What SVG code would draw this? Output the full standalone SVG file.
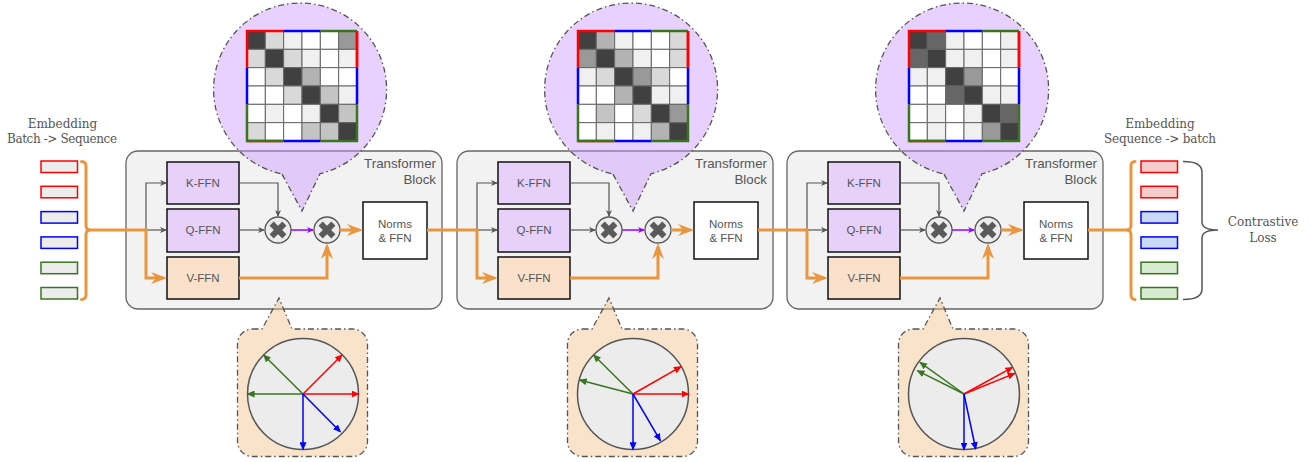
<svg xmlns="http://www.w3.org/2000/svg" width="1313" height="462" viewBox="0 0 1313 462">
  <style>
    .lbl { font-family: "DejaVu Serif", "Liberation Serif", serif; font-size: 12px; fill: #555; text-anchor: middle; }
    .title { font-family: "Liberation Sans", Arial, sans-serif; font-size: 13.3px; fill: #555; text-anchor: end; }
    .ntext { font-family: "Liberation Sans", Arial, sans-serif; font-size: 11.5px; fill: #555; text-anchor: middle; }
    .container { fill: #f2f2f2; stroke: #666; stroke-width: 1.3; }
    .kq { fill: #e7d1fb; stroke: #111; stroke-width: 1.5; }
    .v { fill: #fae1cb; stroke: #111; stroke-width: 1.5; }
    .norm { fill: #fff; stroke: #111; stroke-width: 1.5; }
    .mulc { fill: #ececec; stroke: #555; stroke-width: 1.3; }
    .mulx { fill: #5a5a5a; }
    .gray { fill: none; stroke: #555; stroke-width: 1.2; marker-end: url(#ah-gray); }
    .purp { fill: none; stroke: #9900ff; stroke-width: 1.5; marker-end: url(#ah-purp); }
    .orng { fill: none; stroke: #e9963f; stroke-width: 3; }
    .orng-a { fill: none; stroke: #e9963f; stroke-width: 3; marker-end: url(#ah-orng); }
    .co-p { fill: #cc99ff; fill-opacity: 0.45; stroke: #555; stroke-width: 1.3; stroke-dasharray: 6 3 1.5 3; }
    .co-o { fill: #f3c08c; fill-opacity: 0.45; stroke: #555; stroke-width: 1.3; stroke-dasharray: 6 3 1.5 3; }
    .cell { stroke: #666; stroke-width: 1; vector-effect: non-scaling-stroke; }
    .edge { fill: none; stroke-width: 2.5; vector-effect: non-scaling-stroke; }
    .c0 { fill: #ffffff; } .c1 { fill: #f0f0f0; } .c2 { fill: #d9d9d9; } .c3 { fill: #c4c4c4; }
    .c4 { fill: #b3b3b3; } .c5 { fill: #999999; } .c6 { fill: #666666; } .cd { fill: #404040; }
    .disc { fill: #ececec; stroke: #555; stroke-width: 1.5; }
    .vr { stroke: #ff0000; stroke-width: 1.5; marker-end: url(#ah-r); }
    .vg { stroke: #38761d; stroke-width: 1.5; marker-end: url(#ah-g); }
    .vb { stroke: #0000ff; stroke-width: 1.5; marker-end: url(#ah-b); }
    .emb { stroke-width: 1.5; }
  </style>
  <defs>
    <marker id="ah-gray" viewBox="0 0 7 6" refX="6" refY="3" markerWidth="7" markerHeight="6" markerUnits="userSpaceOnUse" orient="auto"><path d="M0,0 L7,3 L0,6 L2,3 Z" fill="#555"/></marker>
    <marker id="ah-purp" viewBox="0 0 7 6" refX="6" refY="3" markerWidth="7" markerHeight="6" markerUnits="userSpaceOnUse" orient="auto"><path d="M0,0 L7,3 L0,6 L2,3 Z" fill="#9900ff"/></marker>
    <marker id="ah-orng" viewBox="0 0 16 12" refX="12" refY="6" markerWidth="16" markerHeight="12" markerUnits="userSpaceOnUse" orient="auto"><path d="M0,0 L16,6 L0,12 L5,6 Z" fill="#e9963f"/></marker>
    <marker id="ah-r" viewBox="0 0 8 7" refX="7" refY="3.5" markerWidth="8" markerHeight="7" markerUnits="userSpaceOnUse" orient="auto"><path d="M0,0 L8,3.5 L0,7 Z" fill="#ff0000"/></marker>
    <marker id="ah-g" viewBox="0 0 8 7" refX="7" refY="3.5" markerWidth="8" markerHeight="7" markerUnits="userSpaceOnUse" orient="auto"><path d="M0,0 L8,3.5 L0,7 Z" fill="#38761d"/></marker>
    <marker id="ah-b" viewBox="0 0 8 7" refX="7" refY="3.5" markerWidth="8" markerHeight="7" markerUnits="userSpaceOnUse" orient="auto"><path d="M0,0 L8,3.5 L0,7 Z" fill="#0000ff"/></marker>
    <!-- multiply symbol: circle with a thick X -->
    <g id="mul">
      <circle class="mulc" cx="0" cy="0" r="13"/>
      <rect class="mulx" x="-2.9" y="-9" width="5.8" height="18" transform="rotate(45)"/>
      <rect class="mulx" x="-2.9" y="-9" width="5.8" height="18" transform="rotate(-45)"/>
    </g>
    <!-- coloured frame around a 6x6 similarity matrix (unit cells) -->
    <g id="frame">
      <path class="edge" stroke="#ff0000" d="M0,2 V0 H2 M6,2 V0 M0,6 H2"/>
      <path class="edge" stroke="#0000ff" d="M2,0 H4 M0,2 V4 M6,2 V4 M2,6 H4"/>
      <path class="edge" stroke="#38761d" d="M4,0 H6 M0,4 V6 H2 M6,4 V6 H4"/>
      <path class="edge" stroke="#ff0000" d="M6,0 V2"/>
    </g>
  </defs>

  <!-- input embeddings -->
  <g id="input-embeddings">
    <text class="lbl" x="62.5" y="128">Embedding</text>
    <text class="lbl" x="62" y="142.5" textLength="110" lengthAdjust="spacing">Batch -&gt; Sequence</text>
    <rect class="emb" x="41" y="161" width="36.5" height="11.5" fill="#ececec" stroke="#ff0000"/>
    <rect class="emb" x="41" y="186.3" width="36.5" height="11.5" fill="#ececec" stroke="#ff0000"/>
    <rect class="emb" x="41" y="211.6" width="36.5" height="11.5" fill="#ececec" stroke="#0000ff"/>
    <rect class="emb" x="41" y="236.9" width="36.5" height="11.5" fill="#ececec" stroke="#0000ff"/>
    <rect class="emb" x="41" y="262.2" width="36.5" height="11.5" fill="#ececec" stroke="#38761d"/>
    <rect class="emb" x="41" y="287.5" width="36.5" height="11.5" fill="#ececec" stroke="#38761d"/>
  </g>

  <!-- transformer blocks -->
  <g id="block1">
    <rect class="container" x="126" y="151" width="316" height="158" rx="12"/>
    <text class="title" x="436" y="168">Transformer</text>
    <text class="title" x="436" y="184">Block</text>
  </g>
  <g id="k-ffn-1"><rect class="kq" x="167" y="162" width="72" height="42"/><text class="ntext" x="203" y="187">K-FFN</text></g>
  <g id="q-ffn-1"><rect class="kq" x="167" y="209" width="72" height="43"/><text class="ntext" x="203" y="234">Q-FFN</text></g>
  <g id="v-ffn-1"><rect class="v" x="167" y="257" width="72" height="42"/><text class="ntext" x="203" y="282">V-FFN</text></g>
  <g id="mul-kq-1"><use href="#mul" x="278" y="230"/></g>
  <g id="mul-v-1"><use href="#mul" x="327" y="230"/></g>
  <g id="norms-1"><rect class="norm" x="363" y="202" width="64" height="57"/><text class="ntext" x="395" y="227.5">Norms</text><text class="ntext" x="395" y="241.5">&amp; FFN</text></g>

  <g id="block2" transform="translate(331,0)">
    <rect class="container" x="126" y="151" width="316" height="158" rx="12"/>
    <text class="title" x="436" y="168">Transformer</text>
    <text class="title" x="436" y="184">Block</text>
  </g>
  <g id="k-ffn-2" transform="translate(331,0)"><rect class="kq" x="167" y="162" width="72" height="42"/><text class="ntext" x="203" y="187">K-FFN</text></g>
  <g id="q-ffn-2" transform="translate(331,0)"><rect class="kq" x="167" y="209" width="72" height="43"/><text class="ntext" x="203" y="234">Q-FFN</text></g>
  <g id="v-ffn-2" transform="translate(331,0)"><rect class="v" x="167" y="257" width="72" height="42"/><text class="ntext" x="203" y="282">V-FFN</text></g>
  <g id="mul-kq-2" transform="translate(331,0)"><use href="#mul" x="278" y="230"/></g>
  <g id="mul-v-2" transform="translate(331,0)"><use href="#mul" x="327" y="230"/></g>
  <g id="norms-2" transform="translate(331,0)"><rect class="norm" x="363" y="202" width="64" height="57"/><text class="ntext" x="395" y="227.5">Norms</text><text class="ntext" x="395" y="241.5">&amp; FFN</text></g>

  <g id="block3" transform="translate(661,0)">
    <rect class="container" x="126" y="151" width="316" height="158" rx="12"/>
    <text class="title" x="436" y="168">Transformer</text>
    <text class="title" x="436" y="184">Block</text>
  </g>
  <g id="k-ffn-3" transform="translate(661,0)"><rect class="kq" x="167" y="162" width="72" height="42"/><text class="ntext" x="203" y="187">K-FFN</text></g>
  <g id="q-ffn-3" transform="translate(661,0)"><rect class="kq" x="167" y="209" width="72" height="43"/><text class="ntext" x="203" y="234">Q-FFN</text></g>
  <g id="v-ffn-3" transform="translate(661,0)"><rect class="v" x="167" y="257" width="72" height="42"/><text class="ntext" x="203" y="282">V-FFN</text></g>
  <g id="mul-kq-3" transform="translate(661,0)"><use href="#mul" x="278" y="230"/></g>
  <g id="mul-v-3" transform="translate(661,0)"><use href="#mul" x="327" y="230"/></g>
  <g id="norms-3" transform="translate(661,0)"><rect class="norm" x="363" y="202" width="64" height="57"/><text class="ntext" x="395" y="227.5">Norms</text><text class="ntext" x="395" y="241.5">&amp; FFN</text></g>

  <!-- output embeddings -->
  <g id="output-embeddings">
    <text class="lbl" x="1160" y="128">Embedding</text>
    <text class="lbl" x="1160" y="142.5" textLength="112" lengthAdjust="spacing">Sequence -&gt; batch</text>
    <rect class="emb" x="1141" y="161" width="36.5" height="11.5" fill="#f4cccc" stroke="#ff0000"/>
    <rect class="emb" x="1141" y="186.3" width="36.5" height="11.5" fill="#f4cccc" stroke="#ff0000"/>
    <rect class="emb" x="1141" y="211.6" width="36.5" height="11.5" fill="#c9daf8" stroke="#0000ff"/>
    <rect class="emb" x="1141" y="236.9" width="36.5" height="11.5" fill="#c9daf8" stroke="#0000ff"/>
    <rect class="emb" x="1141" y="262.2" width="36.5" height="11.5" fill="#d9ead3" stroke="#38761d"/>
    <rect class="emb" x="1141" y="287.5" width="36.5" height="11.5" fill="#d9ead3" stroke="#38761d"/>
  </g>
  <g id="contrastive-loss">
    <path d="M1183,161.5 Q1202,161.5 1202,172 V222 Q1202,230 1218,230 Q1202,230 1202,238 V289 Q1202,299.5 1183,299.5" fill="none" stroke="#555" stroke-width="1.5"/>
    <text class="lbl" x="1263" y="226">Contrastive</text>
    <text class="lbl" x="1263" y="241.5">Loss</text>
  </g>

  <!-- connectors -->
  <g id="connectors">
    <!-- input brace and feed into block 1 -->
    <path class="orng" d="M81.5,161.5 Q86,161.5 86,166 V225 Q86,230 90,230 Q86,230 86,235 V294.5 Q86,299.5 81.5,299.5" stroke-linecap="round"/>
    <path class="orng" d="M88,230 H146"/>
    <!-- block-to-block and block-to-output links -->
    <path class="orng" d="M427,230 H477"/>
    <path class="orng" d="M758,230 H807"/>
    <path class="orng" d="M1088,230 H1131"/>
    <path class="orng" d="M1135,161.5 Q1131,161.5 1131,166 V225 Q1131,230 1127,230 Q1131,230 1131,235 V294.5 Q1131,299.5 1135,299.5" stroke-linecap="round"/>
    <g id="wires-1">
      <path class="gray" d="M146,230 V183 H166"/>
      <path class="gray" d="M146,230 H166"/>
      <path class="gray" d="M239,183 H278 V216"/>
      <path class="gray" d="M239,230 H264"/>
      <path class="purp" d="M291,230 H313"/>
      <path class="orng-a" d="M144.5,230 H146 V278 H163"/>
      <path class="orng-a" d="M239,278 H327 V247"/>
      <path class="orng-a" d="M340,230 H359"/>
    </g>
    <g id="wires-2" transform="translate(331,0)">
      <path class="gray" d="M146,230 V183 H166"/>
      <path class="gray" d="M146,230 H166"/>
      <path class="gray" d="M239,183 H278 V216"/>
      <path class="gray" d="M239,230 H264"/>
      <path class="purp" d="M291,230 H313"/>
      <path class="orng-a" d="M144.5,230 H146 V278 H163"/>
      <path class="orng-a" d="M239,278 H327 V247"/>
      <path class="orng-a" d="M340,230 H359"/>
    </g>
    <g id="wires-3" transform="translate(661,0)">
      <path class="gray" d="M146,230 V183 H166"/>
      <path class="gray" d="M146,230 H166"/>
      <path class="gray" d="M239,183 H278 V216"/>
      <path class="gray" d="M239,230 H264"/>
      <path class="purp" d="M291,230 H313"/>
      <path class="orng-a" d="M144.5,230 H146 V278 H163"/>
      <path class="orng-a" d="M239,278 H327 V247"/>
      <path class="orng-a" d="M340,230 H359"/>
    </g>
  </g>

  <!-- attention-matrix callouts -->
  <g id="attn-callout-1">
    <path class="co-p" d="M282,174.1 L302,211 L320,173.7 A86.5,86.5 0 1 0 282,174.1 Z"/>
    <g transform="translate(247,31) scale(18.333)">
      <rect class="cell cd" x="0" y="0" width="1" height="1"/><rect class="cell c2" x="1" y="0" width="1" height="1"/><rect class="cell c1" x="2" y="0" width="1" height="1"/><rect class="cell c0" x="3" y="0" width="1" height="1"/><rect class="cell c0" x="4" y="0" width="1" height="1"/><rect class="cell c5" x="5" y="0" width="1" height="1"/>
      <rect class="cell c2" x="0" y="1" width="1" height="1"/><rect class="cell cd" x="1" y="1" width="1" height="1"/><rect class="cell c2" x="2" y="1" width="1" height="1"/><rect class="cell c1" x="3" y="1" width="1" height="1"/><rect class="cell c0" x="4" y="1" width="1" height="1"/><rect class="cell c1" x="5" y="1" width="1" height="1"/>
      <rect class="cell c0" x="0" y="2" width="1" height="1"/><rect class="cell c2" x="1" y="2" width="1" height="1"/><rect class="cell cd" x="2" y="2" width="1" height="1"/><rect class="cell c4" x="3" y="2" width="1" height="1"/><rect class="cell c0" x="4" y="2" width="1" height="1"/><rect class="cell c0" x="5" y="2" width="1" height="1"/>
      <rect class="cell c0" x="0" y="3" width="1" height="1"/><rect class="cell c0" x="1" y="3" width="1" height="1"/><rect class="cell c2" x="2" y="3" width="1" height="1"/><rect class="cell cd" x="3" y="3" width="1" height="1"/><rect class="cell c3" x="4" y="3" width="1" height="1"/><rect class="cell c1" x="5" y="3" width="1" height="1"/>
      <rect class="cell c0" x="0" y="4" width="1" height="1"/><rect class="cell c1" x="1" y="4" width="1" height="1"/><rect class="cell c0" x="2" y="4" width="1" height="1"/><rect class="cell c1" x="3" y="4" width="1" height="1"/><rect class="cell cd" x="4" y="4" width="1" height="1"/><rect class="cell c3" x="5" y="4" width="1" height="1"/>
      <rect class="cell c2" x="0" y="5" width="1" height="1"/><rect class="cell c0" x="1" y="5" width="1" height="1"/><rect class="cell c0" x="2" y="5" width="1" height="1"/><rect class="cell c3" x="3" y="5" width="1" height="1"/><rect class="cell c3" x="4" y="5" width="1" height="1"/><rect class="cell cd" x="5" y="5" width="1" height="1"/>
      <use href="#frame"/>
    </g>
  </g>
  <g id="attn-callout-2" transform="translate(331,0)">
    <path class="co-p" d="M282,174.1 L302,211 L320,173.7 A86.5,86.5 0 1 0 282,174.1 Z"/>
    <g transform="translate(247,31) scale(18.333)">
      <rect class="cell cd" x="0" y="0" width="1" height="1"/><rect class="cell c4" x="1" y="0" width="1" height="1"/><rect class="cell c1" x="2" y="0" width="1" height="1"/><rect class="cell c0" x="3" y="0" width="1" height="1"/><rect class="cell c0" x="4" y="0" width="1" height="1"/><rect class="cell c2" x="5" y="0" width="1" height="1"/>
      <rect class="cell c5" x="0" y="1" width="1" height="1"/><rect class="cell cd" x="1" y="1" width="1" height="1"/><rect class="cell c4" x="2" y="1" width="1" height="1"/><rect class="cell c1" x="3" y="1" width="1" height="1"/><rect class="cell c0" x="4" y="1" width="1" height="1"/><rect class="cell c2" x="5" y="1" width="1" height="1"/>
      <rect class="cell c1" x="0" y="2" width="1" height="1"/><rect class="cell c2" x="1" y="2" width="1" height="1"/><rect class="cell cd" x="2" y="2" width="1" height="1"/><rect class="cell c5" x="3" y="2" width="1" height="1"/><rect class="cell c2" x="4" y="2" width="1" height="1"/><rect class="cell c0" x="5" y="2" width="1" height="1"/>
      <rect class="cell c0" x="0" y="3" width="1" height="1"/><rect class="cell c0" x="1" y="3" width="1" height="1"/><rect class="cell c4" x="2" y="3" width="1" height="1"/><rect class="cell cd" x="3" y="3" width="1" height="1"/><rect class="cell c1" x="4" y="3" width="1" height="1"/><rect class="cell c1" x="5" y="3" width="1" height="1"/>
      <rect class="cell c0" x="0" y="4" width="1" height="1"/><rect class="cell c3" x="1" y="4" width="1" height="1"/><rect class="cell c0" x="2" y="4" width="1" height="1"/><rect class="cell c2" x="3" y="4" width="1" height="1"/><rect class="cell cd" x="4" y="4" width="1" height="1"/><rect class="cell c5" x="5" y="4" width="1" height="1"/>
      <rect class="cell c0" x="0" y="5" width="1" height="1"/><rect class="cell c1" x="1" y="5" width="1" height="1"/><rect class="cell c0" x="2" y="5" width="1" height="1"/><rect class="cell c1" x="3" y="5" width="1" height="1"/><rect class="cell c4" x="4" y="5" width="1" height="1"/><rect class="cell cd" x="5" y="5" width="1" height="1"/>
      <use href="#frame"/>
    </g>
  </g>
  <g id="attn-callout-3" transform="translate(662,0)">
    <path class="co-p" d="M282,174.1 L302,211 L320,173.7 A86.5,86.5 0 1 0 282,174.1 Z"/>
    <g transform="translate(247,31) scale(18.333)">
      <rect class="cell cd" x="0" y="0" width="1" height="1"/><rect class="cell c6" x="1" y="0" width="1" height="1"/><rect class="cell c1" x="2" y="0" width="1" height="1"/><rect class="cell c0" x="3" y="0" width="1" height="1"/><rect class="cell c0" x="4" y="0" width="1" height="1"/><rect class="cell c1" x="5" y="0" width="1" height="1"/>
      <rect class="cell c6" x="0" y="1" width="1" height="1"/><rect class="cell cd" x="1" y="1" width="1" height="1"/><rect class="cell c1" x="2" y="1" width="1" height="1"/><rect class="cell c1" x="3" y="1" width="1" height="1"/><rect class="cell c0" x="4" y="1" width="1" height="1"/><rect class="cell c1" x="5" y="1" width="1" height="1"/>
      <rect class="cell c1" x="0" y="2" width="1" height="1"/><rect class="cell c1" x="1" y="2" width="1" height="1"/><rect class="cell cd" x="2" y="2" width="1" height="1"/><rect class="cell c5" x="3" y="2" width="1" height="1"/><rect class="cell c0" x="4" y="2" width="1" height="1"/><rect class="cell c0" x="5" y="2" width="1" height="1"/>
      <rect class="cell c0" x="0" y="3" width="1" height="1"/><rect class="cell c0" x="1" y="3" width="1" height="1"/><rect class="cell c6" x="2" y="3" width="1" height="1"/><rect class="cell cd" x="3" y="3" width="1" height="1"/><rect class="cell c1" x="4" y="3" width="1" height="1"/><rect class="cell c1" x="5" y="3" width="1" height="1"/>
      <rect class="cell c0" x="0" y="4" width="1" height="1"/><rect class="cell c1" x="1" y="4" width="1" height="1"/><rect class="cell c0" x="2" y="4" width="1" height="1"/><rect class="cell c1" x="3" y="4" width="1" height="1"/><rect class="cell cd" x="4" y="4" width="1" height="1"/><rect class="cell c6" x="5" y="4" width="1" height="1"/>
      <rect class="cell c0" x="0" y="5" width="1" height="1"/><rect class="cell c1" x="1" y="5" width="1" height="1"/><rect class="cell c0" x="2" y="5" width="1" height="1"/><rect class="cell c1" x="3" y="5" width="1" height="1"/><rect class="cell c5" x="4" y="5" width="1" height="1"/><rect class="cell cd" x="5" y="5" width="1" height="1"/>
      <use href="#frame"/>
    </g>
  </g>

  <!-- value-vector callouts -->
  <g id="value-callout-1">
    <path class="co-o" d="M252.5,329 H262 L279,298 L292,329 H352.5 A15,15 0 0 1 367.5,344 V441.5 A15,15 0 0 1 352.5,456.5 H252.5 A15,15 0 0 1 237.5,441.5 V344 A15,15 0 0 1 252.5,329 Z"/>
    <circle class="disc" cx="303" cy="394" r="55.5"/>
    <line class="vg" x1="303" y1="394" x2="263.6" y2="355"/>
    <line class="vg" x1="303" y1="394" x2="247.6" y2="394"/>
    <line class="vr" x1="303" y1="394" x2="342" y2="355"/>
    <line class="vr" x1="303" y1="394" x2="358.6" y2="394"/>
    <line class="vb" x1="303" y1="394" x2="303" y2="449.3"/>
    <line class="vb" x1="303" y1="394" x2="340.3" y2="431.7"/>
  </g>
  <g id="value-callout-2" transform="translate(330,0)">
    <path class="co-o" d="M252.5,329 H262 L279,298 L292,329 H352.5 A15,15 0 0 1 367.5,344 V441.5 A15,15 0 0 1 352.5,456.5 H252.5 A15,15 0 0 1 237.5,441.5 V344 A15,15 0 0 1 252.5,329 Z"/>
    <circle class="disc" cx="303" cy="394" r="55.5"/>
    <line class="vg" x1="303" y1="394" x2="263.6" y2="355"/>
    <line class="vg" x1="303" y1="394" x2="249.6" y2="380"/>
    <line class="vr" x1="303" y1="394" x2="351" y2="366.7"/>
    <line class="vr" x1="303" y1="394" x2="358.6" y2="394"/>
    <line class="vb" x1="303" y1="394" x2="303" y2="449.3"/>
    <line class="vb" x1="303" y1="394" x2="330.3" y2="440.7"/>
  </g>
  <g id="value-callout-3" transform="translate(661,0)">
    <path class="co-o" d="M252.5,329 H262 L279,298 L292,329 H352.5 A15,15 0 0 1 367.5,344 V441.5 A15,15 0 0 1 352.5,456.5 H252.5 A15,15 0 0 1 237.5,441.5 V344 A15,15 0 0 1 252.5,329 Z"/>
    <circle class="disc" cx="303" cy="394" r="55.5"/>
    <line class="vg" x1="303" y1="394" x2="259" y2="362.4"/>
    <line class="vg" x1="303" y1="394" x2="256.4" y2="370.7"/>
    <line class="vr" x1="303" y1="394" x2="351.4" y2="367.4"/>
    <line class="vr" x1="303" y1="394" x2="353.7" y2="373.4"/>
    <line class="vb" x1="303" y1="394" x2="303" y2="449.5"/>
    <line class="vb" x1="303" y1="394" x2="314.7" y2="449"/>
  </g>
</svg>
